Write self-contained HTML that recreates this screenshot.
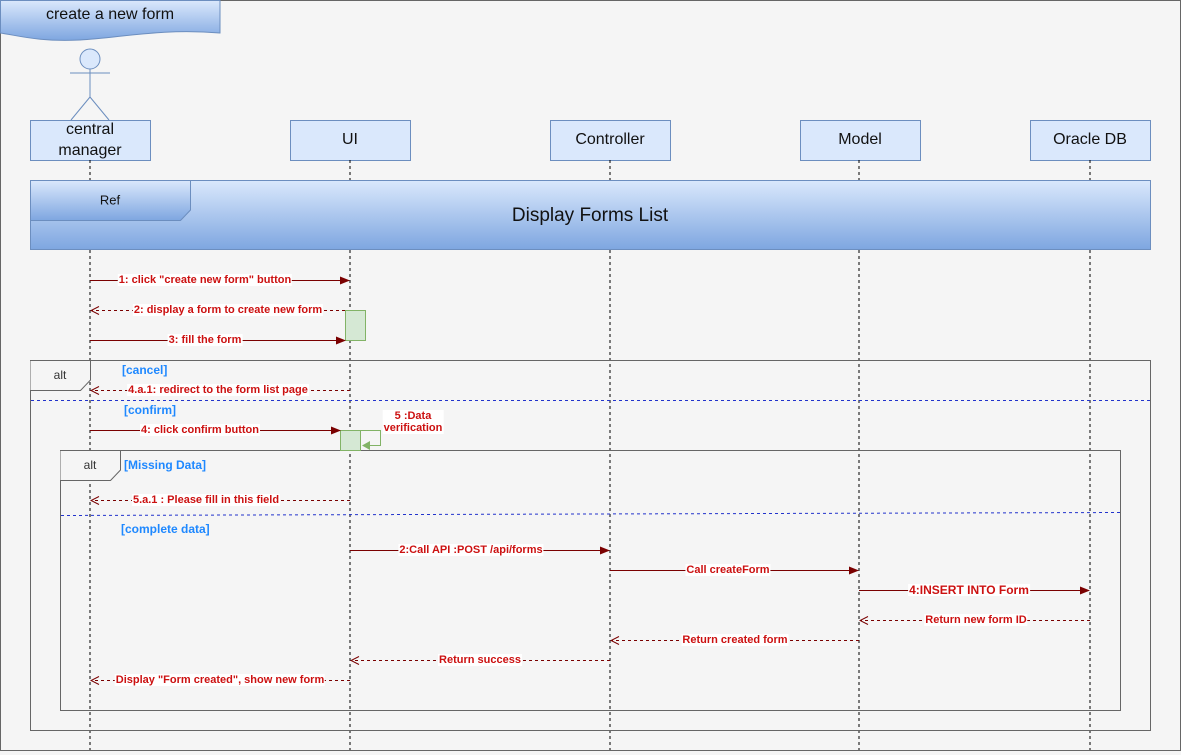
<!DOCTYPE html>
<html><head><meta charset="utf-8"><style>
body{margin:0;background:#fff}
#c{position:relative;width:1181px;height:755px;overflow:hidden;background:#f5f5f5;font-family:"Liberation Sans",sans-serif}
.l{position:absolute;transform:translate(-50%,-50%);background:#fff;color:#cc1111;font-weight:bold;font-size:11px;white-space:nowrap;line-height:12px;padding:0 1px}
.g{position:absolute;color:#1e88ff;font-weight:bold;font-size:12px;white-space:nowrap}
.t{position:absolute;transform:translate(-50%,-50%);color:#111;white-space:nowrap;text-align:center}
</style></head><body><div id="c">
<svg width="1181" height="755" style="position:absolute;left:0;top:0">
<defs>
<linearGradient id="bg" x1="0" y1="0" x2="0" y2="1"><stop offset="0" stop-color="#dae8fc"/><stop offset="1" stop-color="#7ea6e0"/></linearGradient>
<marker id="af" markerWidth="10" markerHeight="8" refX="9" refY="4" orient="auto" markerUnits="userSpaceOnUse"><path d="M0,0 L10,4 L0,8z" fill="#7a0000"/></marker>
<marker id="ao" markerWidth="10" markerHeight="10" refX="9" refY="5" orient="auto" markerUnits="userSpaceOnUse"><path d="M1,1 L9,5 L1,9" fill="none" stroke="#7a0000"/></marker>
</defs>
<rect x="0.5" y="0.5" width="1180" height="750" fill="#f5f5f5" stroke="#666"/>
<path d="M0.5,0.5 H220 V33 C160,28 120,38 80,40 C40,42 20,36 0.5,33z" fill="url(#bg)" stroke="#6c8ebf"/>
<g stroke="#6c8ebf" fill="none"><circle cx="90" cy="59" r="10" fill="#dae8fc"/><line x1="90" y1="69" x2="90" y2="97"/><line x1="70" y1="73" x2="110" y2="73"/><line x1="90" y1="97" x2="71" y2="120"/><line x1="90" y1="97" x2="109" y2="120"/></g>
<g fill="#dae8fc" stroke="#6c8ebf">
<rect x="30.5" y="120.5" width="120" height="40"/><rect x="290.5" y="120.5" width="120" height="40"/><rect x="550.5" y="120.5" width="120" height="40"/><rect x="800.5" y="120.5" width="120" height="40"/><rect x="1030.5" y="120.5" width="120" height="40"/></g>
<g stroke="#000" stroke-dasharray="3,3"><line x1="90" y1="160" x2="90" y2="750"/><line x1="350" y1="160" x2="350" y2="750"/><line x1="610" y1="160" x2="610" y2="750"/><line x1="859" y1="160" x2="859" y2="750"/><line x1="1090" y1="160" x2="1090" y2="750"/></g>
<rect x="30.5" y="180.5" width="1120" height="69" fill="url(#bg)" stroke="#6c8ebf"/>
<path d="M30.5,180.5 H190.5 V210 L180.5,220.5 H30.5z" fill="url(#bg)" stroke="#6c8ebf"/>
<rect x="30.5" y="360.5" width="1120" height="370" fill="none" stroke="#666"/>
<path d="M30.5,360.5 H90.5 V380 L80.5,390.5 H30.5" fill="#f5f5f5" stroke="#666"/>
<line x1="31" y1="400.5" x2="1150" y2="400.5" stroke="#2233cc" stroke-dasharray="3,3"/>
<rect x="60.5" y="450.5" width="1060" height="260" fill="none" stroke="#666"/>
<path d="M60.5,450.5 H120.5 V470 L110.5,480.5 H60.5" fill="#f5f5f5" stroke="#666"/>
<line x1="61" y1="515.5" x2="1120" y2="512.5" stroke="#2233cc" stroke-dasharray="3,3"/>
<rect x="345.5" y="310.5" width="20" height="30" fill="#d5e8d4" stroke="#82b366"/>
<rect x="340.5" y="430.5" width="20" height="20" fill="#d5e8d4" stroke="#82b366"/>
<path d="M360.5,430.5 H380.5 V445.5 H363" fill="none" stroke="#82b366"/><path d="M362,445.5 L370,441 L370,450z" fill="#82b366"/>
<g stroke="#7a0000" fill="none">
<line x1="90" y1="280.5" x2="349" y2="280.5" marker-end="url(#af)"/>
<line x1="345" y1="310.5" x2="91" y2="310.5" stroke-dasharray="3,3" marker-end="url(#ao)"/>
<line x1="90" y1="340.5" x2="345" y2="340.5" marker-end="url(#af)"/>
<line x1="350" y1="390.5" x2="91" y2="390.5" stroke-dasharray="3,3" marker-end="url(#ao)"/>
<line x1="90" y1="430.5" x2="340" y2="430.5" marker-end="url(#af)"/>
<line x1="350" y1="500.5" x2="91" y2="500.5" stroke-dasharray="3,3" marker-end="url(#ao)"/>
<line x1="350" y1="550.5" x2="609" y2="550.5" marker-end="url(#af)"/>
<line x1="610" y1="570.5" x2="858" y2="570.5" marker-end="url(#af)"/>
<line x1="859" y1="590.5" x2="1089" y2="590.5" marker-end="url(#af)"/>
<line x1="1090" y1="620.5" x2="860" y2="620.5" stroke-dasharray="3,3" marker-end="url(#ao)"/>
<line x1="859" y1="640.5" x2="611" y2="640.5" stroke-dasharray="3,3" marker-end="url(#ao)"/>
<line x1="610" y1="660.5" x2="351" y2="660.5" stroke-dasharray="3,3" marker-end="url(#ao)"/>
<line x1="350" y1="680.5" x2="91" y2="680.5" stroke-dasharray="3,3" marker-end="url(#ao)"/>
</g>
</svg>
<div class="t" style="left:110px;top:15px;font-size:16px">create a new form</div>
<div class="t" style="left:90px;top:140px;font-size:16px;line-height:21px">central<br>manager</div>
<div class="t" style="left:350px;top:140px;font-size:16px">UI</div>
<div class="t" style="left:610px;top:140px;font-size:16px">Controller</div>
<div class="t" style="left:860px;top:140px;font-size:16px">Model</div>
<div class="t" style="left:1090px;top:140px;font-size:16px">Oracle DB</div>
<div class="t" style="left:110px;top:200px;font-size:13px">Ref</div>
<div class="t" style="left:590px;top:216px;font-size:19px">Display Forms List</div>
<div class="t" style="left:60px;top:375px;font-size:12px;color:#333">alt</div>
<div class="t" style="left:90px;top:465px;font-size:12px;color:#333">alt</div>
<div class="g" style="left:122px;top:363px">[cancel]</div>
<div class="g" style="left:124px;top:403px">[confirm]</div>
<div class="g" style="left:124px;top:458px">[Missing Data]</div>
<div class="g" style="left:121px;top:522px">[complete data]</div>
<div class="l" style="left:205px;top:280px">1: click "create new form" button</div>
<div class="l" style="left:228px;top:310px">2: display a form to create new form</div>
<div class="l" style="left:205px;top:340px">3: fill the form</div>
<div class="l" style="left:218px;top:390px">4.a.1: redirect to the form list page</div>
<div class="l" style="left:200px;top:430px">4: click confirm button</div>
<div class="l" style="left:413px;top:422px;text-align:center">5 :Data<br>verification</div>
<div class="l" style="left:206px;top:500px">5.a.1 : Please fill in this field</div>
<div class="l" style="left:471px;top:550px">2:Call API :POST /api/forms</div>
<div class="l" style="left:728px;top:570px">Call createForm</div>
<div class="l" style="left:969px;top:590px;font-size:12px">4:INSERT INTO Form</div>
<div class="l" style="left:976px;top:620px">Return new form ID</div>
<div class="l" style="left:735px;top:640px">Return created form</div>
<div class="l" style="left:480px;top:660px">Return success</div>
<div class="l" style="left:220px;top:680px">Display "Form created", show new form</div>
</div></body></html>
